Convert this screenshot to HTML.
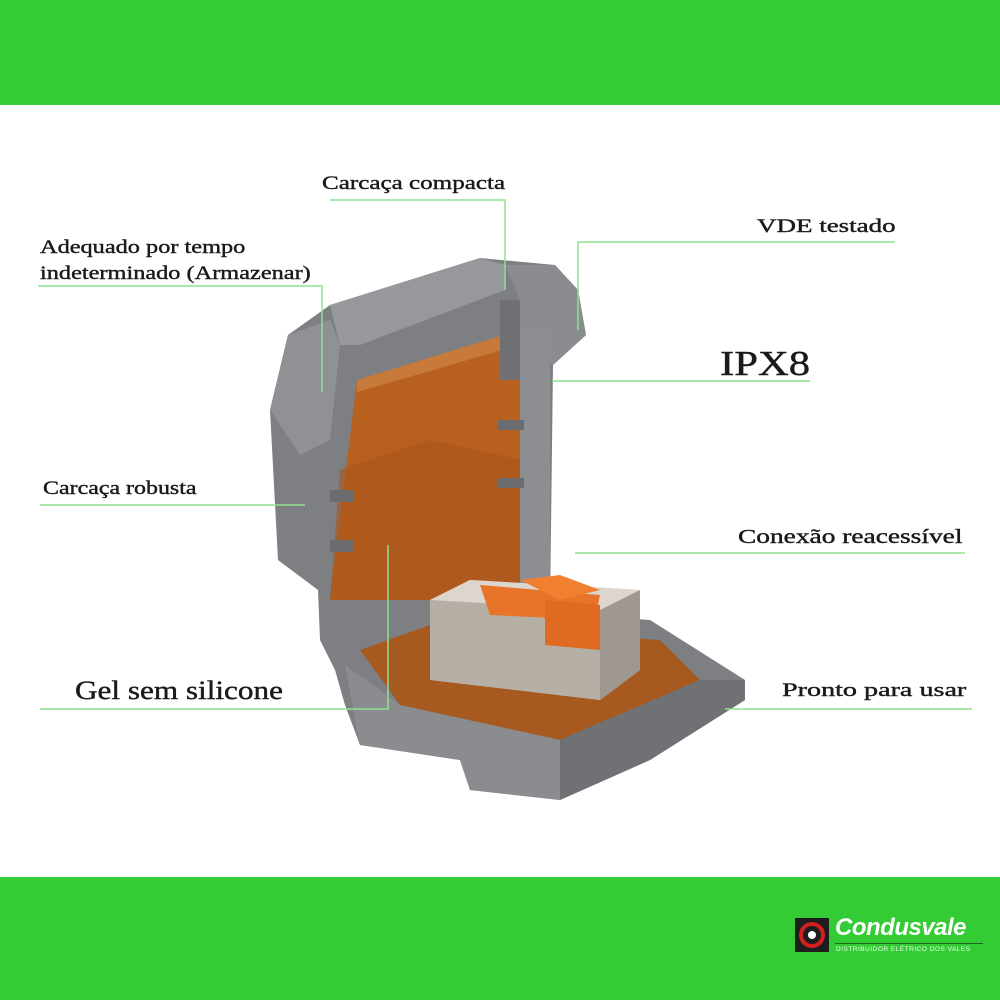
<!DOCTYPE html>
<html><head><meta charset="utf-8"><style>
html,body{margin:0;padding:0}
body{width:1000px;height:1000px;position:relative;background:#fff;overflow:hidden;font-family:"Liberation Serif",serif;color:#1a1a1a}
.g{position:absolute;left:0;width:1000px;background:#34cc34}
.t{position:absolute;white-space:nowrap;font-size:19px;-webkit-text-stroke:0.4px #1a1a1a;line-height:1;transform-origin:0 0}
</style></head><body>
<div class="g" style="top:0;height:105px"></div>
<div class="g" style="top:877px;height:123px"></div>
<svg width="1000" height="1000" style="position:absolute;left:0;top:0">
<polygon points="270,410 288,335 330,305 480,258 555,265 578,290 586,335 553,365 550,610 320,640 318,590 278,560" fill="#7d7f82"/>
<polygon points="330,305 480,258 505,265 505,290 360,345 340,345" fill="#96989b"/>
<polygon points="357,380 520,330 522,600 330,600" fill="#b8601e"/>
<polygon points="357,380 520,330 520,345 357,392" fill="#c87a3a"/>
<polygon points="340,470 430,440 522,460 522,600 330,600" fill="#a8551a" opacity="0.6"/>
<polygon points="505,265 555,265 578,290 586,335 553,365 520,350 520,300" fill="#8a8c8f"/>
<rect x="500" y="300" width="20" height="80" fill="#6e7073"/>
<rect x="520" y="330" width="30" height="290" fill="#8c8e91"/>
<polygon points="288,335 330,320 340,345 330,440 300,455 270,410" fill="#8f9194"/>
<rect x="498" y="420" width="26" height="10" fill="#6a6c6f"/>
<rect x="498" y="478" width="26" height="10" fill="#6a6c6f"/>
<rect x="330" y="490" width="24" height="12" fill="#6a6c6f"/>
<rect x="330" y="540" width="24" height="12" fill="#6a6c6f"/>
<polygon points="320,640 430,605 650,620 745,680 745,700 650,760 560,800 470,790 460,760 360,745 345,705 335,670" fill="#7d7f82"/>
<polygon points="360,650 430,625 660,640 700,680 560,740 400,705" fill="#a65a20"/>
<polygon points="345,665 400,705 560,740 560,800 470,790 460,760 360,745" fill="#8a8c8f"/>
<polygon points="560,740 700,680 745,680 745,700 650,760 560,800" fill="#6f7174"/>
<polygon points="430,600 470,580 640,590 640,670 600,700 430,680" fill="#c9c3bb"/>
<polygon points="430,600 470,580 640,590 600,610" fill="#ddd6cf"/>
<polygon points="430,600 600,610 600,700 430,680" fill="#b3aba2" opacity="0.85"/>
<polygon points="480,585 600,595 595,620 490,615" fill="#e8742a"/>
<polygon points="520,580 560,575 600,590 560,600" fill="#f08030"/>
<polygon points="545,600 600,605 600,650 545,645" fill="#e06a22"/>
<polygon points="600,610 640,590 640,670 600,700" fill="#9f9890"/>
<g stroke="#8fe08f" stroke-width="1.5" fill="none">
<polyline points="330,200 505,200 505,290"/>
<polyline points="38,286 322,286 322,392"/>
<polyline points="578,330 578,242 895,242"/>
<polyline points="552,381 810,381"/>
<polyline points="40,505 305,505"/>
<polyline points="575,553 965,553"/>
<polyline points="388,545 388,709 40,709"/>
<polyline points="725,709 972,709"/>
</g>
<rect x="795" y="918" width="34" height="34" fill="#1d1d1d"/>
<circle cx="812" cy="935" r="11" fill="none" stroke="#d02020" stroke-width="4"/>
<circle cx="812" cy="935" r="4" fill="#fff"/>
</svg>
<div class="t" style="left:322px;top:174px;transform:scaleX(1.32)">Carcaça compacta</div>
<div class="t" style="left:40px;top:235px;line-height:26px;transform:scaleX(1.28)">Adequado por tempo<br>indeterminado (Armazenar)</div>
<div class="t" style="left:757px;top:217px;transform:scaleX(1.42)">VDE testado</div>
<div class="t" style="left:720px;top:346px;font-size:35px;transform:scaleX(1.22)">IPX8</div>
<div class="t" style="left:43px;top:479px;transform:scaleX(1.26)">Carcaça robusta</div>
<div class="t" style="left:738px;top:527px;font-size:20px;transform:scaleX(1.37)">Conexão reacessível</div>
<div class="t" style="left:75px;top:678px;font-size:26px;transform:scaleX(1.2)">Gel sem silicone</div>
<div class="t" style="left:782px;top:681px;transform:scaleX(1.48)">Pronto para usar</div>
<div style="position:absolute;left:835px;top:914px;font-family:'Liberation Sans',sans-serif;font-weight:bold;font-style:italic;font-size:24px;color:#fff;letter-spacing:-0.5px">Condusvale</div>
<div style="position:absolute;left:835px;top:943px;width:148px;border-top:1px solid #1a6a1a"></div>
<div style="position:absolute;left:836px;top:946px;font-family:'Liberation Sans',sans-serif;font-size:6.5px;color:#e8ffe8;letter-spacing:0.5px">DISTRIBUIDOR ELÉTRICO DOS VALES</div>
</body></html>
